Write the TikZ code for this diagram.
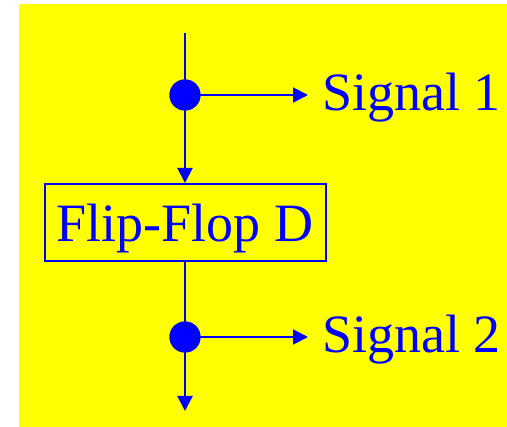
\documentclass[tikz,border=0pt]{standalone}
\usepackage{fontspec}
\setmainfont{Liberation Serif}
\usetikzlibrary{arrows.meta}
\definecolor{bg}{RGB}{255,255,0}
\definecolor{wireblue}{RGB}{0,0,255}
\begin{document}
\begin{tikzpicture}[x=1pt,y=-1pt,
  plainwire/.style={draw=wireblue, line width=2pt},
  arrowwire/.style={plainwire, -{Triangle[length=15pt,width=15pt]}},
  dotnode/.style={circle, fill=wireblue, minimum size=31pt, inner sep=0pt},
  boxnode/.style={draw=wireblue, line width=2pt, minimum width=281pt, minimum height=77pt, inner sep=0pt, text height=50pt, text depth=11pt, text=wireblue, font=\fontsize{54}{60}\selectfont},
  lbl/.style={anchor=base west, inner sep=0pt, text=wireblue, font=\fontsize{54}{60}\selectfont}]
\useasboundingbox (0,0) rectangle (507,427);
\fill[bg] (19,4) rectangle (507,427);
\coordinate (top) at (185,33);
\node[dotnode] (d1) at (185,95) {};
\node[boxnode] (ff) at (185,222.5) {Flip-Flop D};
\node[dotnode] (d2) at (185,337) {};
\coordinate (s1) at (308,95);
\coordinate (s2) at (308,337);
\coordinate (bot) at (185,411);
\node[lbl] (l1) at (322,111) {Signal 1};
\node[lbl] (l2) at (322,353) {Signal 2};
\draw[plainwire] (top) -- (d1.center);
\draw[arrowwire] (d1.center) -- (ff.north);
\draw[arrowwire] (d1.center) -- (s1);
\draw[plainwire] (ff.south) -- (d2.center);
\draw[arrowwire] (d2.center) -- (s2);
\draw[arrowwire] (d2.center) -- (bot);
\node[dotnode] at (d1) {};
\node[dotnode] at (d2) {};
\end{tikzpicture}
\end{document}
